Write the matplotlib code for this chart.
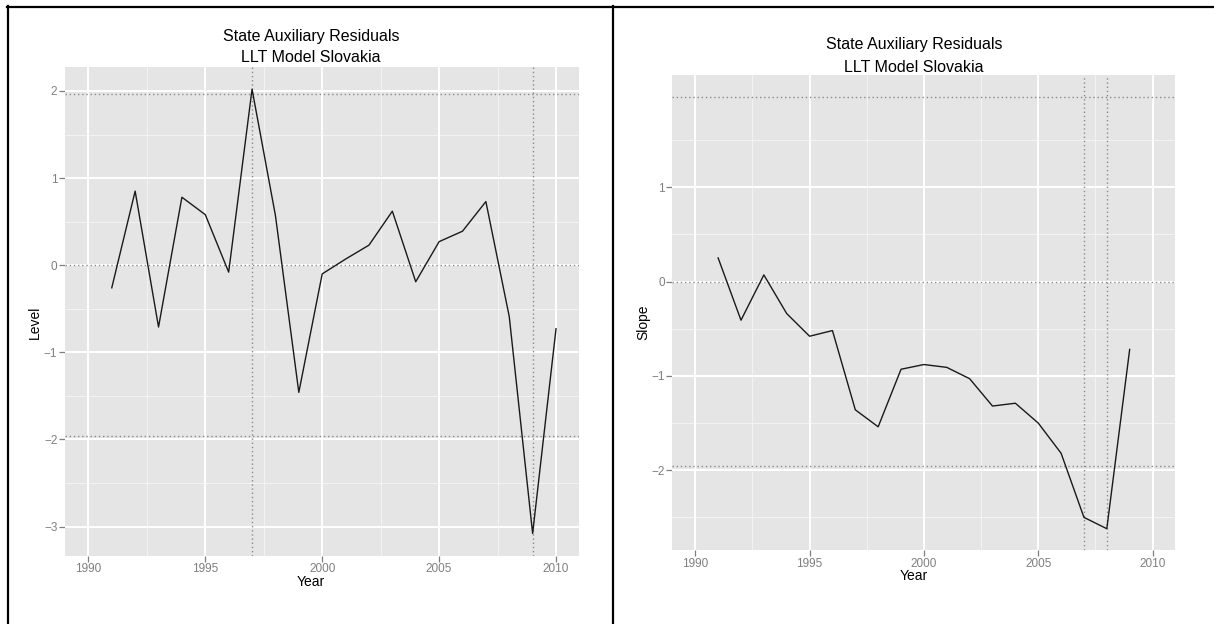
import matplotlib
matplotlib.use("Agg")
import matplotlib.pyplot as plt
from matplotlib.lines import Line2D
import numpy as np

plt.rcParams['font.family'] = ['Liberation Sans', 'DejaVu Sans']

# ---- data ----
level_years = list(range(1991, 2011))
level_values = [-0.26, 0.85, -0.71, 0.78, 0.58, -0.08, 2.02, 0.57, -1.46, -0.10,
                0.07, 0.23, 0.62, -0.19, 0.27, 0.39, 0.73, -0.59, -3.08, -0.73]
level_outliers = [1997, 2009]

slope_years = list(range(1991, 2010))
slope_values = [0.25, -0.41, 0.07, -0.34, -0.58, -0.52, -1.36, -1.54, -0.93, -0.88,
                -0.91, -1.03, -1.32, -1.29, -1.50, -1.82, -2.50, -2.62, -0.72]
slope_outliers = [2007, 2008]

bounds = [-1.96, 0, 1.96]
title_line1 = "State Auxiliary Residuals"
title_line2 = "LLT Model Slovakia"
x_ticks = [1990, 1995, 2000, 2005, 2010]
x_minor = [1992.5, 1997.5, 2002.5, 2007.5]
level_yticks = [-3, -2, -1, 0, 1, 2]
level_yminor = [-2.5, -1.5, -0.5, 0.5, 1.5]
slope_yticks = [-2, -1, 0, 1]
slope_yminor = [-2.5, -1.5, -0.5, 0.5, 1.5]

W, H = 1214, 624
fig = plt.figure(figsize=(W / 100, H / 100), dpi=100)
fig.patch.set_facecolor('white')

BG = '#E5E5E5'
GRID_MAJOR = 'white'
GRID_MINOR = '#F2F2F2'
DOT = '#8a8a8a'
TICKC = '#7f7f7f'


def px_rect(x0, y0, x1, y1):
    return [x0 / W, 1 - y1 / H, (x1 - x0) / W, (y1 - y0) / H]


def make_panel(rect, years, values, outliers, yticks, yminor, ylabel,
               t1_y, t2_y, title_x, xlab_x, xlab_y, ylab_x, ylab_y):
    ax = fig.add_axes(rect)
    ax.set_facecolor(BG)
    for s in ax.spines.values():
        s.set_visible(False)
    lo = min(min(values), min(bounds))
    hi = max(max(values), max(bounds))
    pad = 0.05 * (hi - lo)
    ax.set_ylim(lo - pad, hi + pad)
    ax.set_xlim(1989, 2011)
    for v in x_minor:
        ax.axvline(v, color=GRID_MINOR, lw=0.8, zorder=0.5)
    for v in yminor:
        ax.axhline(v, color=GRID_MINOR, lw=0.8, zorder=0.5)
    for v in x_ticks:
        ax.axvline(v, color=GRID_MAJOR, lw=1.4, zorder=0.6)
    for v in yticks:
        ax.axhline(v, color=GRID_MAJOR, lw=1.4, zorder=0.6)
    for b in bounds:
        ax.axhline(b, color=DOT, lw=1.0, ls=(0, (1, 2)), zorder=1)
    for o in outliers:
        ax.axvline(o, color=DOT, lw=1.0, ls=(0, (1, 2)), zorder=1)
    ax.plot(years, values, color='#1a1a1a', lw=1.0, zorder=2)
    ax.set_xticks(x_ticks)
    ax.set_yticks(yticks)
    ax.set_yticklabels([str(t).replace('-', '\u2212') for t in yticks])
    ax.tick_params(axis='both', colors=TICKC, labelcolor='#7f7f7f',
                   labelsize=8.5, length=4, width=0.9, pad=1.5)
    ax.set_axisbelow(True)
    fig.text(title_x / W, 1 - t1_y / H, title_line1, ha='center', va='center',
             fontsize=11.5, color='black')
    fig.text(title_x / W, 1 - t2_y / H, title_line2, ha='center', va='center',
             fontsize=11.5, color='black')
    fig.text(xlab_x / W, 1 - xlab_y / H, 'Year', ha='center', va='center',
             fontsize=10, color='black')
    fig.text(ylab_x / W, 1 - ylab_y / H, ylabel, ha='center', va='center',
             rotation=90, fontsize=10, color='black')
    return ax


make_panel(px_rect(65, 67, 579.4, 555.7), level_years, level_values, level_outliers,
           level_yticks, level_yminor, 'Level',
           t1_y=36, t2_y=58, title_x=311, xlab_x=311, xlab_y=581.5, ylab_x=35, ylab_y=322)
make_panel(px_rect(672.4, 75, 1175.4, 550.3), slope_years, slope_values, slope_outliers,
           slope_yticks, slope_yminor, 'Slope',
           t1_y=45, t2_y=67, title_x=914, xlab_x=914, xlab_y=575.5, ylab_x=643, ylab_y=322)

# table borders
fig.add_artist(Line2D([7 / W, 1.0], [1 - 7 / H, 1 - 7 / H], color='black', lw=1.6))
fig.add_artist(Line2D([8 / W, 8 / W], [0, 1 - 6 / H], color='black', lw=1.6))
fig.add_artist(Line2D([612.5 / W, 612.5 / W], [0, 1 - 6 / H], color='black', lw=1.6))

fig.savefig('out.png', dpi=100)
